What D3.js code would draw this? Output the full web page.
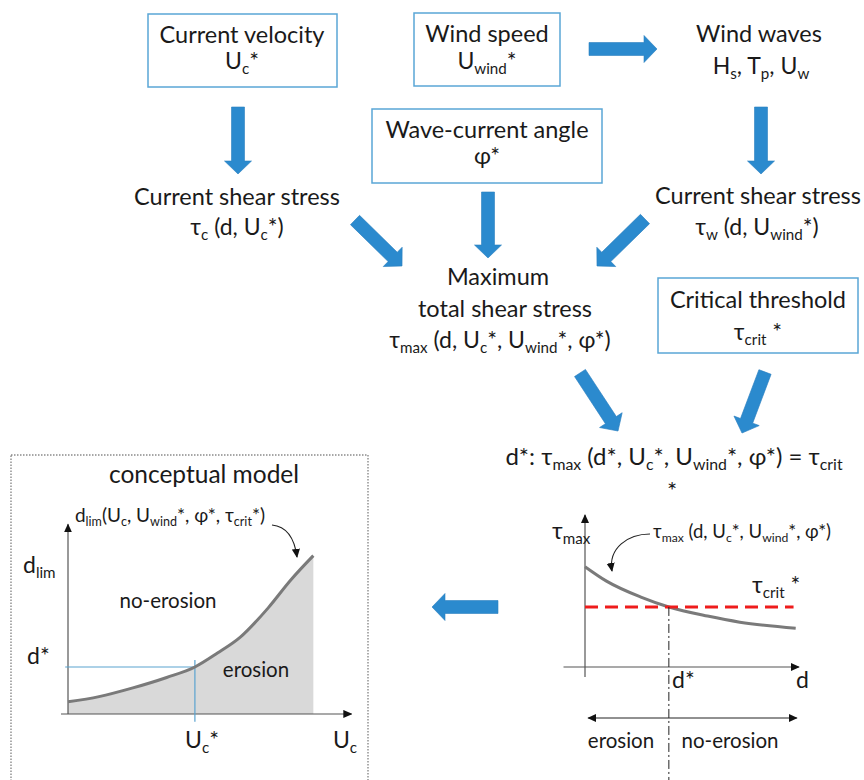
<!DOCTYPE html>
<html>
<head>
<meta charset="utf-8">
<script src="https://cdn.jsdelivr.net/npm/d3@7"></script>
<style>
  body { margin: 0; background: #fff; }
  text { font-family: Lato, "Open Sans", sans-serif; fill: #1a1a1a; white-space: pre; }
</style>
</head>
<body>
<div id="chart"></div>
<script>
// conceptual model curve: d_lim as a function of U_c (arbitrary units)
var conceptUc   = [0, 1.1, 2.3, 3.5, 4.5, 5.3, 6.1, 7.1, 7.9, 8.7];
var conceptDlim = [0.7, 1.0, 1.5, 2.1, 2.7, 3.5, 4.4, 6.1, 7.7, 9.1];
var ucStar = 4.5, dLimStar = 2.7;

// tau_max profile against depth d (arbitrary units)
var profileD   = [0, 1.0, 2.6, 3.9, 5.7, 7.2, 9.8];
var profileTau = [6.6, 5.65, 4.6, 3.95, 3.35, 2.95, 2.55];
var tauCrit = 3.95, dStar = 3.9;

var W = 864, H = 780;
var blue = "#2b8ace", boxBlue = "#5aa6d6";

var svg = d3.select("#chart").append("svg")
    .attr("width", W).attr("height", H);

var defs = svg.append("defs");
defs.append("marker")
    .attr("id", "tip")
    .attr("viewBox", "0 -5 10 10")
    .attr("refX", 9).attr("refY", 0)
    .attr("markerWidth", 9).attr("markerHeight", 9)
    .attr("markerUnits", "userSpaceOnUse")
    .attr("orient", "auto-start-reverse")
    .append("path").attr("d", "M0,-4.5L10,0L0,4.5Z").attr("fill", "#111");

// text with {subscript} markup
function rich(g, x, y, str, size, anchor) {
    var t = g.append("text")
        .attr("x", x).attr("y", y)
        .attr("font-size", size)
        .attr("text-anchor", anchor || "middle");
    var parts = str.split(/(\{[^}]*\})/).filter(function(s) { return s.length; });
    var shifted = false;
    parts.forEach(function(p) {
        var sub = p[0] === "{";
        var ts = t.append("tspan").text(sub ? p.slice(1, -1) : p);
        if (sub) {
            ts.attr("font-size", size * 0.66).attr("dy", size * 0.2);
            shifted = true;
        } else if (shifted) {
            ts.attr("dy", -size * 0.2);
            shifted = false;
        }
    });
    return t;
}

// thick blue block arrow
function blockArrow(x1, y1, x2, y2) {
    var shaft = 13, head = 27, hl = 13;
    var L = Math.hypot(x2 - x1, y2 - y1);
    var ang = Math.atan2(y2 - y1, x2 - x1) * 180 / Math.PI;
    var p = [[0, -shaft/2], [L - hl, -shaft/2], [L - hl, -head/2], [L, 0],
             [L - hl, head/2], [L - hl, shaft/2], [0, shaft/2]];
    svg.append("path")
        .attr("d", "M" + p.map(function(q) { return q.join(","); }).join("L") + "Z")
        .attr("transform", "translate(" + x1 + "," + y1 + ") rotate(" + ang + ")")
        .attr("fill", blue)
        .attr("stroke", "#2a7fbf").attr("stroke-width", 0.6);
}

function box(x, y, w, h) {
    svg.append("rect")
        .attr("x", x).attr("y", y).attr("width", w).attr("height", h)
        .attr("fill", "none").attr("stroke", boxBlue).attr("stroke-width", 1.5);
}

// ---- flow chart ----
var fs = 23.5, ff = 23;
box(148, 14, 189, 73);
rich(svg, 242, 43, "Current velocity", fs);
rich(svg, 242, 69, "U{c}*", ff);

box(414, 13, 146, 73);
rich(svg, 487, 42, "Wind speed", fs);
rich(svg, 487, 69, "U{wind}*", ff);

rich(svg, 759, 42, "Wind waves", fs);
rich(svg, 761, 74, "H{s}, T{p}, U{w}", ff);

box(372, 109, 230, 74);
rich(svg, 487, 138, "Wave-current angle", fs);
rich(svg, 487, 164, "φ*", ff);

rich(svg, 237, 205, "Current shear stress", fs);
rich(svg, 237, 235, "τ{c} (d, U{c}*)", ff);

rich(svg, 758, 204, "Current shear stress", fs);
rich(svg, 757, 235, "τ{w} (d, U{wind}*)", ff);

rich(svg, 498, 285, "Maximum", fs);
rich(svg, 505, 317, "total shear stress", fs);
rich(svg, 500, 348, "τ{max} (d, U{c}*, U{wind}*, φ*)", ff);

box(658, 278, 200, 75);
rich(svg, 758, 308, "Critical threshold", fs);
rich(svg, 758, 340, "τ{crit} *", ff);

rich(svg, 674, 465, "d*: τ{max} (d*, U{c}*, U{wind}*, φ*) = τ{crit}", 24);
rich(svg, 672, 499, "*", 24);

blockArrow(589, 49, 657, 49);
blockArrow(238, 107, 238, 174);
blockArrow(761, 107, 761, 174);
blockArrow(488, 192, 488, 258);
blockArrow(355, 220, 402, 266);
blockArrow(645, 219, 597, 266);
blockArrow(580, 373, 618, 431);
blockArrow(765, 372, 742, 433);
blockArrow(498, 607, 432, 607);

// ---- conceptual model panel ----
svg.append("rect")
    .attr("x", 11).attr("y", 455).attr("width", 357).attr("height", 340)
    .attr("fill", "none").attr("stroke", "#8a8a8a")
    .attr("stroke-width", 1.4).attr("stroke-dasharray", "1.5,1.5");

rich(svg, 204, 483, "conceptual model", 24.5);

var xL = d3.scaleLinear().domain([0, 10]).range([68, 350]);
var yL = d3.scaleLinear().domain([0, 10]).range([714, 540]);
var concept = conceptUc.map(function(u, i) { return {u: u, d: conceptDlim[i]}; });

svg.append("path")
    .datum(concept)
    .attr("fill", "#d9d9d9")
    .attr("d", d3.area()
        .x(function(d) { return xL(d.u); })
        .y0(yL(0))
        .y1(function(d) { return yL(d.d); })
        .curve(d3.curveMonotoneX));

svg.append("line")
    .attr("x1", xL(-0.25)).attr("x2", xL(10.05))
    .attr("y1", yL(0)).attr("y2", yL(0))
    .attr("stroke", "#555").attr("stroke-width", 1.2)
    .attr("marker-end", "url(#tip)");
svg.append("line")
    .attr("x1", xL(0)).attr("x2", xL(0))
    .attr("y1", yL(0)).attr("y2", yL(10.9))
    .attr("stroke", "#555").attr("stroke-width", 1.2)
    .attr("marker-end", "url(#tip)");

svg.append("line")
    .attr("x1", xL(-0.1)).attr("x2", xL(ucStar))
    .attr("y1", yL(dLimStar)).attr("y2", yL(dLimStar))
    .attr("stroke", "#5ba3d0").attr("stroke-width", 1.2);
svg.append("line")
    .attr("x1", xL(ucStar)).attr("x2", xL(ucStar))
    .attr("y1", yL(dLimStar + 0.4)).attr("y2", yL(-0.45))
    .attr("stroke", "#5ba3d0").attr("stroke-width", 1.2);

svg.append("path")
    .datum(concept)
    .attr("fill", "none").attr("stroke", "#7a7a7a").attr("stroke-width", 3)
    .attr("d", d3.line()
        .x(function(d) { return xL(d.u); })
        .y(function(d) { return yL(d.d); })
        .curve(d3.curveMonotoneX));

rich(svg, 23, 573, "d{lim}", 23, "start");
rich(svg, 27, 664, "d*", 23, "start");
rich(svg, 168, 608, "no-erosion", 20.5);
rich(svg, 256, 677, "erosion", 20.5);
rich(svg, 202, 748, "U{c}*", 23);
rich(svg, 345, 748, "U{c}", 23);
rich(svg, 170, 522, "d{lim}(U{c}, U{wind}*, φ*, τ{crit}*)", 19);

var pa = d3.path();
pa.moveTo(272, 525);
pa.quadraticCurveTo(293, 527, 297, 557);
svg.append("path").attr("d", pa.toString())
    .attr("fill", "none").attr("stroke", "#222").attr("stroke-width", 1.1)
    .attr("marker-end", "url(#tip)");

// ---- tau_max profile panel ----
var xR = d3.scaleLinear().domain([0, 10]).range([585, 800]);
var yR = d3.scaleLinear().domain([0, 10]).range([667, 515]);
var profile = profileD.map(function(d, i) { return {d: d, t: profileTau[i]}; });

svg.append("line")
    .attr("x1", xR(-1)).attr("x2", xR(9.95))
    .attr("y1", yR(0)).attr("y2", yR(0))
    .attr("stroke", "#555").attr("stroke-width", 1.2)
    .attr("marker-end", "url(#tip)");
svg.append("line")
    .attr("x1", xR(0)).attr("x2", xR(0))
    .attr("y1", yR(-0.65)).attr("y2", yR(10))
    .attr("stroke", "#555").attr("stroke-width", 1.2)
    .attr("marker-end", "url(#tip)");

svg.append("path")
    .datum(profile)
    .attr("fill", "none").attr("stroke", "#7a7a7a").attr("stroke-width", 3)
    .attr("d", d3.line()
        .x(function(d) { return xR(d.d); })
        .y(function(d) { return yR(d.t); })
        .curve(d3.curveMonotoneX));

svg.append("line")
    .attr("x1", xR(0)).attr("x2", xR(9.7))
    .attr("y1", yR(tauCrit)).attr("y2", yR(tauCrit))
    .attr("stroke", "#ee1c1c").attr("stroke-width", 3)
    .attr("stroke-dasharray", "13,7");

svg.append("line")
    .attr("x1", xR(dStar)).attr("x2", xR(dStar))
    .attr("y1", yR(tauCrit)).attr("y2", 782)
    .attr("stroke", "#222").attr("stroke-width", 1)
    .attr("stroke-dasharray", "9,3,2,3");

svg.append("line")
    .attr("x1", xR(0.15)).attr("x2", xR(9.85))
    .attr("y1", 718).attr("y2", 718)
    .attr("stroke", "#222").attr("stroke-width", 1)
    .attr("marker-start", "url(#tip)").attr("marker-end", "url(#tip)");

rich(svg, 552, 539, "τ{max}", 23, "start");
rich(svg, 752, 593, "τ{crit} *", 23, "start");
rich(svg, 672, 688, "d*", 23, "start");
rich(svg, 796, 688, "d", 23, "start");
rich(svg, 621, 748, "erosion", 20.5);
rich(svg, 730, 748, "no-erosion", 20.5);
rich(svg, 653, 538, "τ{max} (d, U{c}*, U{wind}*, φ*)", 18.5, "start");

var pb = d3.path();
pb.moveTo(650, 534);
pb.bezierCurveTo(628, 534, 608, 548, 612, 571);
svg.append("path").attr("d", pb.toString())
    .attr("fill", "none").attr("stroke", "#222").attr("stroke-width", 1.1)
    .attr("marker-end", "url(#tip)");
</script>
</body>
</html>
